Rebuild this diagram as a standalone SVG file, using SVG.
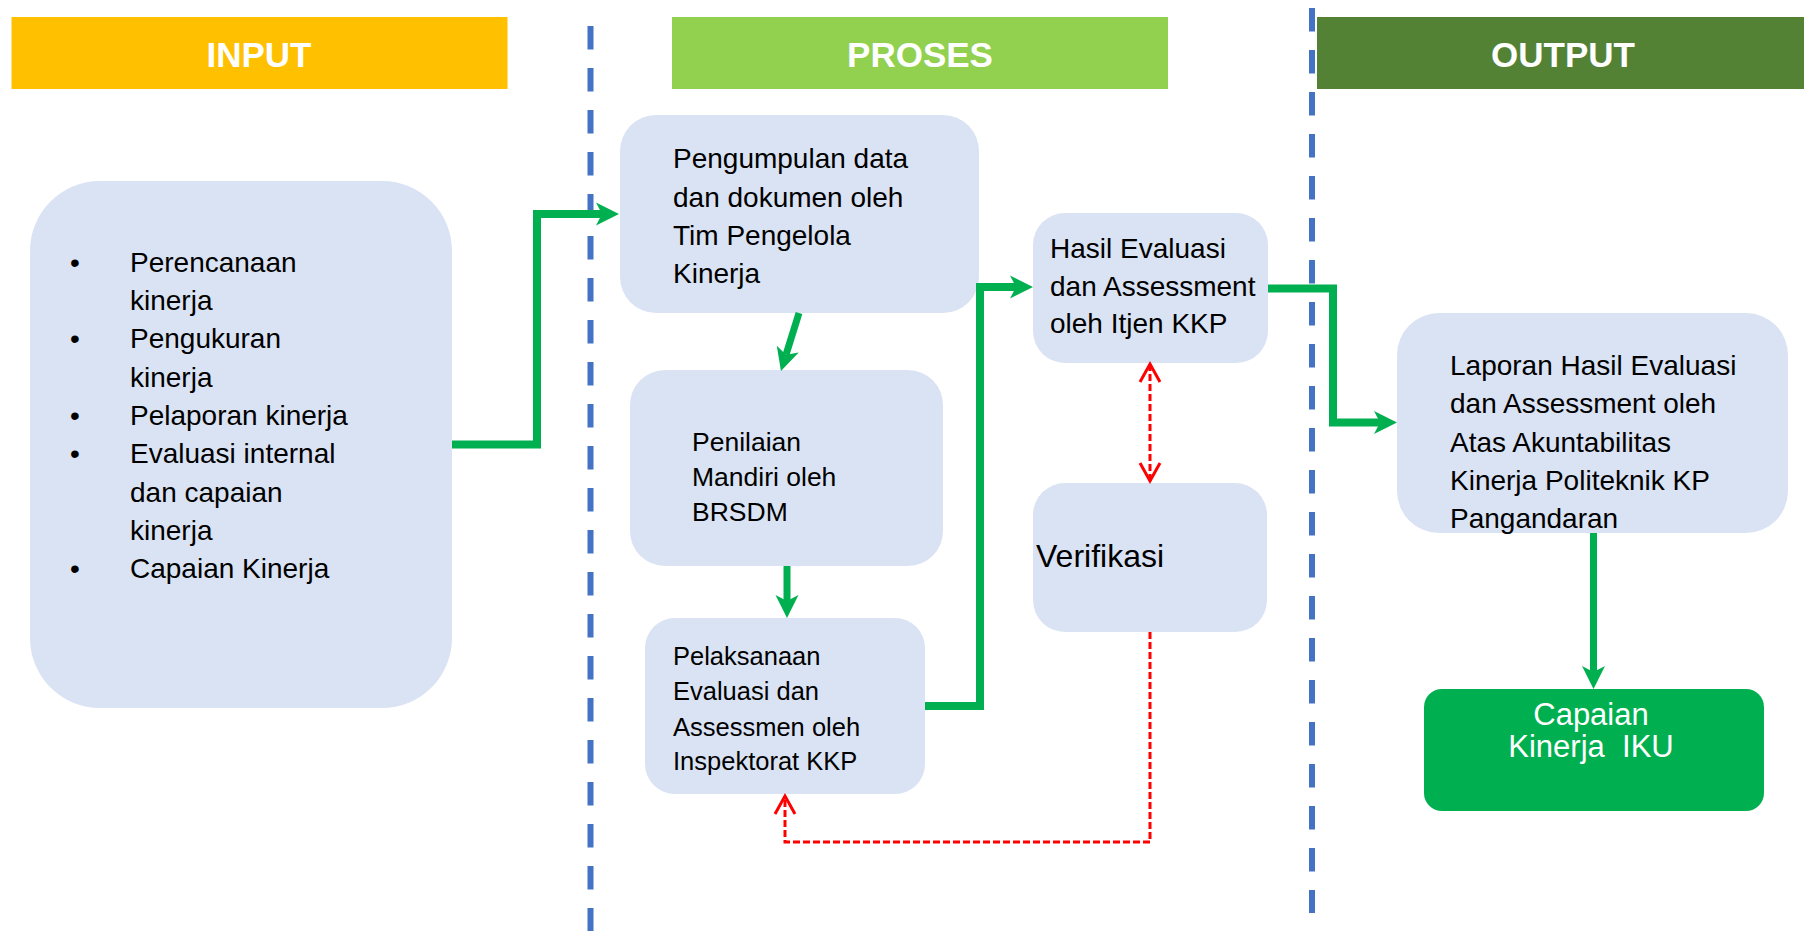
<svg xmlns="http://www.w3.org/2000/svg" width="1804" height="931" viewBox="0 0 1804 931">
<style>
  .hdr { font-family: "Liberation Sans", Arial, sans-serif; font-weight: bold; font-size: 35px; fill: #FFFFFF; text-anchor: middle; }
  .box { fill: #DAE3F3; }
  .t { font-family: "Liberation Sans", Arial, sans-serif; font-size: 28px; fill: #000000; }
  .sep { stroke: #4472C4; stroke-width: 6; stroke-dasharray: 23.5 18.5; fill: none; }
  .g { stroke: #00B050; stroke-width: 8; fill: none; marker-end: url(#ga); }
  .r { stroke: #FF0000; stroke-width: 3; fill: none; stroke-dasharray: 7 3; }
</style>
<defs>
  <marker id="ga" markerUnits="userSpaceOnUse" markerWidth="24" markerHeight="24" refX="6" refY="11.5" orient="auto" overflow="visible">
    <path d="M0,0 L23,11.5 L0,23 L6,11.5 z" fill="#00B050"/>
  </marker>
  <marker id="ra" markerUnits="userSpaceOnUse" markerWidth="20" markerHeight="22" refX="18" refY="10" orient="auto-start-reverse" overflow="visible">
    <path d="M0,0 L18,10 L0,20" fill="none" stroke="#FF0000" stroke-width="3"/>
  </marker>
</defs>
<rect width="1804" height="931" fill="#FFFFFF"/>

<g id="separators">
  <line class="sep" x1="590.5" y1="26" x2="590.5" y2="931"/>
  <line class="sep" x1="1312" y1="8" x2="1312" y2="913"/>
</g>

<g id="header-input">
  <rect x="11.5" y="17" width="496" height="72" fill="#FFC000"/>
  <text class="hdr" x="259" y="67">INPUT</text>
</g>
<g id="header-proses">
  <rect x="672" y="17" width="496" height="72" fill="#92D050"/>
  <text class="hdr" x="920" y="67">PROSES</text>
</g>
<g id="header-output">
  <rect x="1317" y="17" width="487" height="72" fill="#548235"/>
  <text class="hdr" x="1563" y="67">OUTPUT</text>
</g>

<g id="node-input">
  <rect class="box" x="30" y="181" width="422" height="527" rx="70" ry="70"/>
  <g class="t">
    <text x="75" y="272" text-anchor="middle">•</text>
    <text x="130" y="272">Perencanaan</text>
    <text x="130" y="310">kinerja</text>
    <text x="75" y="348" text-anchor="middle">•</text>
    <text x="130" y="348">Pengukuran</text>
    <text x="130" y="387">kinerja</text>
    <text x="75" y="425" text-anchor="middle">•</text>
    <text x="130" y="425">Pelaporan kinerja</text>
    <text x="75" y="463" text-anchor="middle">•</text>
    <text x="130" y="463">Evaluasi internal</text>
    <text x="130" y="502">dan capaian</text>
    <text x="130" y="540">kinerja</text>
    <text x="75" y="578" text-anchor="middle">•</text>
    <text x="130" y="578">Capaian Kinerja</text>
  </g>
</g>

<g id="node-pengumpulan">
  <rect class="box" x="620" y="115" width="359" height="198" rx="36" ry="36"/>
  <g class="t">
    <text x="673" y="168">Pengumpulan data</text>
    <text x="673" y="207">dan dokumen oleh</text>
    <text x="673" y="245">Tim Pengelola</text>
    <text x="673" y="283">Kinerja</text>
  </g>
</g>

<g id="node-penilaian">
  <rect class="box" x="630" y="370" width="313" height="196" rx="35" ry="35"/>
  <g class="t" style="font-size:26.5px">
    <text x="692" y="451">Penilaian</text>
    <text x="692" y="486">Mandiri oleh</text>
    <text x="692" y="521">BRSDM</text>
  </g>
</g>

<g id="node-pelaksanaan">
  <rect class="box" x="645" y="618" width="280" height="176" rx="30" ry="30"/>
  <g class="t" style="font-size:25.5px">
    <text x="673" y="665">Pelaksanaan</text>
    <text x="673" y="700">Evaluasi dan</text>
    <text x="673" y="736">Assessmen oleh</text>
    <text x="673" y="770">Inspektorat KKP</text>
  </g>
</g>

<g id="node-hasil">
  <rect class="box" x="1033" y="213" width="235" height="150" rx="32" ry="32"/>
  <g class="t">
    <text x="1050" y="258">Hasil Evaluasi</text>
    <text x="1050" y="296">dan Assessment</text>
    <text x="1050" y="333">oleh Itjen KKP</text>
  </g>
</g>

<g id="node-verifikasi">
  <rect class="box" x="1033" y="483" width="234" height="149" rx="32" ry="32"/>
  <text class="t" x="1036" y="567" style="font-size:32px">Verifikasi</text>
</g>

<g id="node-laporan">
  <rect class="box" x="1397" y="313" width="391" height="220" rx="42" ry="42"/>
  <g class="t">
    <text x="1450" y="375">Laporan Hasil Evaluasi</text>
    <text x="1450" y="413">dan Assessment oleh</text>
    <text x="1450" y="452">Atas Akuntabilitas</text>
    <text x="1450" y="490">Kinerja Politeknik KP</text>
    <text x="1450" y="528">Pangandaran</text>
  </g>
</g>

<g id="node-capaian">
  <rect x="1424" y="689" width="340" height="122" rx="18" ry="18" fill="#00B050"/>
  <g class="t" style="fill:#FFFFFF;font-size:31px" text-anchor="middle">
    <text x="1591" y="725">Capaian</text>
    <text x="1591" y="757" style="white-space:pre">Kinerja  IKU</text>
  </g>
</g>

<g id="connectors">
  <path class="g" d="M452,444.5 H537 V214 H602"/>
  <path class="g" style="stroke-width:7" d="M799,313 L786,354.8"/>
  <path class="g" style="stroke-width:7" d="M787,566 V601"/>
  <path class="g" d="M925,706 H980 V287 H1016"/>
  <path class="g" d="M1268,288.5 H1333 V422.5 H1380"/>
  <path class="g" style="stroke-width:7" d="M1593.5,533 V672"/>
  <path class="r" d="M1150,364 V481" marker-start="url(#ra)" marker-end="url(#ra)"/>
  <path class="r" d="M1150,632 V842 H785 V796" marker-end="url(#ra)"/>
</g>
</svg>
